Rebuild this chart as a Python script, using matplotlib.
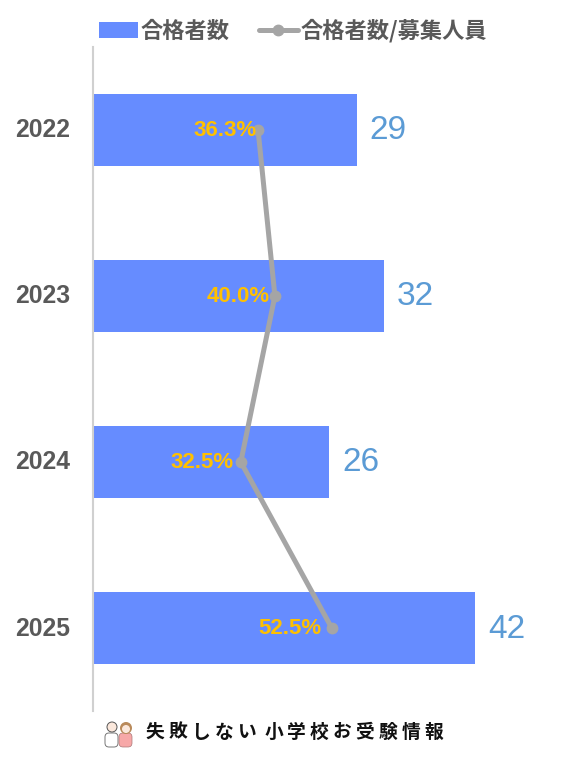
# Passed applicants per year, with the pass ratio on a second axis
import matplotlib
matplotlib.use('Agg')
import matplotlib.pyplot as plt
from matplotlib.patches import Circle, FancyBboxPatch
from matplotlib.transforms import ScaledTranslation

plt.rcParams['font.family'] = ['Liberation Sans', 'Noto Sans CJK JP', 'DejaVu Sans']

years = ['2022', '2023', '2024', '2025']
passed = [29, 32, 26, 42]
ratio = [36.3, 40.0, 32.5, 52.5]
title_chars = list('失敗しない') + [''] + list('小学校お受験情報')

W, H = 577, 760
fig = plt.figure(figsize=(W / 100, H / 100), dpi=100)
ax = fig.add_axes([93 / W, 1 - 711 / H, (W - 93) / W, 664 / H])

y = range(len(years))
ax.barh(y, passed, height=0.43, color='#668CFF', label='合格者数')
ax.set_xlim(0, (W - 93) / 9.095)
ax.set_ylim(3.5, -0.5)
ax.set_yticks(list(y))
ax.set_yticklabels(years, fontsize=17.8, fontweight='bold', color='#595959')
ax.tick_params(axis='y', length=0, pad=16.5)
ax.xaxis.set_visible(False)
for side in ['top', 'right', 'bottom']:
    ax.spines[side].set_visible(False)
ax.spines['left'].set_color('#D0D0D0')
ax.spines['left'].set_linewidth(1.5)

# tick labels sit a little higher than the axis centre
for lab in ax.get_yticklabels():
    lab.set_transform(lab.get_transform() + ScaledTranslation(0, 2 / 100, fig.dpi_scale_trans))

# value labels at the bar ends
for i, v in enumerate(passed):
    ax.annotate(str(v), (v, i), xytext=(13, -1), textcoords='offset pixels',
                va='center', ha='left', fontsize=24, color='#5B9BD5')

# ratio line, 2x the scale of the bars
ax2 = ax.twiny()
ax2.set_xlim(0, 2 * (W - 93) / 9.095)
ax2.axis('off')
line, = ax2.plot(ratio, list(y), color='#A5A5A5', lw=3.6, marker='o', ms=7.5,
                 solid_capstyle='round', label='合格者数/募集人員')
for i, r in enumerate(ratio):
    # the labels drift further from the point on each lower row
    ax2.annotate(f'{r:.1f}%', (r, i), xytext=(-(2 + 2.7 * i), -1), textcoords='offset pixels',
                 va='center', ha='right', fontsize=16, fontweight='bold', color='#FFC000')

handles = ax.get_legend_handles_labels()[0] + [line]
labels = ['合格者数', '合格者数/募集人員']
leg = fig.legend(handles, labels, ncol=2, frameon=False, loc='center left',
                 bbox_to_anchor=(92 / W, 1 - 31 / H), fontsize=16,
                 handlelength=1.75, handletextpad=0.15, columnspacing=1.3,
                 borderpad=0.3, borderaxespad=0)
for t in leg.get_texts():
    t.set_color('#595959')
    t.set_fontweight('bold')
    t.set_fontfamily(['Noto Sans CJK JP', 'DejaVu Sans'])

# footer logo text, spaced out one character at a time
x = 155
for ch in title_chars:
    if ch:
        fig.text(x / W, 1 - 733 / H, ch, ha='center', va='center', fontsize=13.5,
                 fontweight='bold', color='#111111')
        x += 22.9
    else:
        x += 4

# small couple icon next to the footer text
icon = fig.add_axes([102 / W, 1 - 748 / H, 34 / W, 30 / H])
icon.set_xlim(0, 34)
icon.set_ylim(30, 0)
icon.axis('off')
icon.add_patch(FancyBboxPatch((3, 15), 13, 14, boxstyle='round,pad=0,rounding_size=4',
                              fc='white', ec='#777777', lw=0.7))
icon.add_patch(Circle((10, 9), 5, fc='#FBE8DC', ec='#555555', lw=0.7))
icon.add_patch(FancyBboxPatch((17, 15), 13, 14, boxstyle='round,pad=0,rounding_size=4',
                              fc='#F7A8A8', ec='#AA7777', lw=0.5))
icon.add_patch(Circle((24, 10), 6, fc='#B98A5A', ec='none'))
icon.add_patch(Circle((24, 11), 4, fc='#FBE8DC', ec='none'))

fig.savefig('out.png', dpi=100)
